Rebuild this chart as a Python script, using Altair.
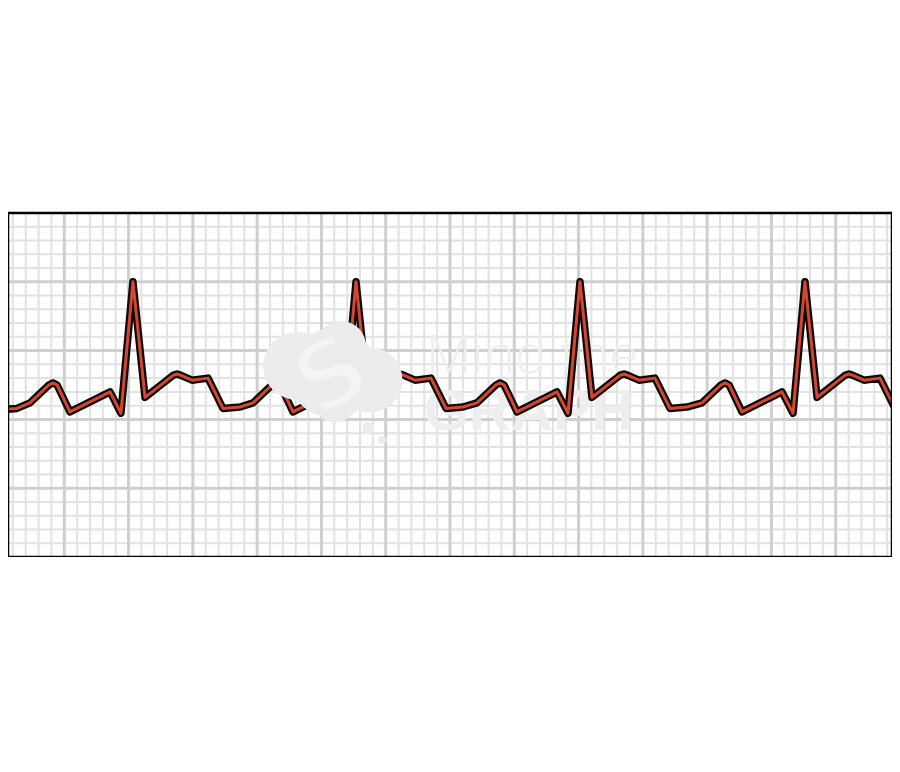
import altair as alt
import pandas as pd

# Grid positions in small-box units (1 small box = 40 ms / 0.1 mV)
x_minor = [i for i in range(1, 70) if i % 5]
x_major = list(range(5, 70, 5))
y_minor = [i for i in range(1, 25) if i % 5]
y_major = [5, 10, 15, 20]

# ECG trace (small-box units)
trace_t = [0.00, 1.32, 2.33, 3.80, 4.12, 4.44, 5.44, 8.56, 9.41, 10.34, 11.28, 13.46, 13.77, 14.08, 14.93, 16.18, 17.34,
           18.67, 19.68, 21.15, 21.47, 21.79, 22.79, 25.90, 26.76, 27.69, 28.62, 30.80, 31.11, 31.42, 32.28, 33.52, 34.69,
           36.01, 37.10, 38.57, 38.89, 39.21, 40.21, 43.32, 44.18, 45.11, 46.04, 48.22, 48.53, 48.84, 49.70, 50.94, 52.11,
           53.43, 54.60, 56.07, 56.39, 56.71, 57.71, 60.82, 61.68, 62.61, 63.55, 65.72, 66.03, 66.34, 67.20, 68.44, 69.61, 70.00]
trace_v = [10.7, 10.8, 11.2, 12.5, 12.65, 12.5, 10.55, 12.0, 10.45, 20.0, 11.6, 13.2, 13.3, 13.2, 12.85, 13.0, 10.8,
           10.9, 11.2, 12.5, 12.65, 12.5, 10.55, 12.0, 10.45, 20.0, 11.6, 13.2, 13.3, 13.2, 12.85, 13.0, 10.8,
           10.9, 11.2, 12.5, 12.65, 12.5, 10.55, 12.0, 10.45, 20.0, 11.6, 13.2, 13.3, 13.2, 12.85, 13.0, 10.8,
           10.9, 11.2, 12.5, 12.65, 12.5, 10.55, 12.0, 10.45, 20.0, 11.6, 13.2, 13.3, 13.2, 12.85, 13.0, 10.8, 10.5]

wm_line1 = ["Mind the"]
wm_line2 = ["GRAPH"]
logo_glyph = ["S"]

# plot area: page x 8..892 shows the strip between these small-box positions
W, H = 884, 344
px_per_box = 900 / 70
xs = alt.Scale(domain=[8 / px_per_box, 892 / px_per_box], nice=False, zero=False)
ys = alt.Scale(domain=[0, 25], nice=False, zero=False)

def vrules(vals, color, width):
    return alt.Chart(pd.DataFrame({"v": vals})).mark_rule(color=color, strokeWidth=width).encode(
        x=alt.X("v:Q", scale=xs, axis=None))

def hrules(vals, color, width):
    return alt.Chart(pd.DataFrame({"v": vals})).mark_rule(color=color, strokeWidth=width).encode(
        y=alt.Y("v:Q", scale=ys, axis=None))

trace = pd.DataFrame({"t": trace_t, "v": trace_v})
base = alt.Chart(trace).encode(
    x=alt.X("t:Q", scale=xs, axis=None),
    y=alt.Y("v:Q", scale=ys, axis=None),
    order=alt.Order("t:Q"),
)
outline = base.mark_line(color="#0a0a0a", strokeWidth=7.5, strokeJoin="round", strokeCap="round", clip=True)
inner = base.mark_line(color="#d4462f", strokeWidth=3, strokeJoin="round", strokeCap="round", clip=True)

# watermark logo (plot coords = page coords minus 8, 213)
blob = pd.DataFrame({
    "px": [325, 289, 362, 333, 327, 360, 374],
    "py": [160, 153, 167, 133, 187, 215, 227],
    "sz": [8100, 4600, 4200, 2500, 2000, 150, 70],
})
logo_blobs = alt.Chart(blob).mark_circle(color="#ececec", opacity=1).encode(
    x=alt.X("px:Q", scale=None, axis=None), y=alt.Y("py:Q", scale=None, axis=None),
    size=alt.Size("sz:Q", scale=None, legend=None))
logo = alt.Chart(pd.DataFrame({"s": logo_glyph})).mark_text(
    font="DejaVu Sans", fontWeight="bold", fontSize=96, align="center", baseline="middle",
    angle=330, fill="#f4f4f4", stroke="#ececec", strokeWidth=6,
).encode(text="s:N", x=alt.value(325), y=alt.value(165))

t1 = alt.Chart(pd.DataFrame({"s": wm_line1})).mark_text(
    font="Open Sans", fontWeight=300, fontSize=53, align="left", baseline="alphabetic",
    color="#eeeeee",
).encode(text="s:N", x=alt.value(418), y=alt.value(160))

t2 = alt.Chart(pd.DataFrame({"s": wm_line2})).mark_text(
    font="Liberation Sans", fontWeight="bold", fontSize=58, align="left", baseline="alphabetic",
    color="#eeeeee",
).encode(text="s:N", x=alt.value(416), y=alt.value(217))

frame = alt.Chart(pd.DataFrame({"f": [0]})).mark_rect(
    fillOpacity=0, stroke="#000000", strokeWidth=2.5
).encode(x=alt.value(0), x2=alt.value(W), y=alt.value(0), y2=alt.value(H))

chart = alt.layer(
    vrules(x_minor, "#e2e2e2", 2),
    hrules(y_minor, "#e2e2e2", 2),
    vrules(x_major, "#cfcfcf", 3),
    hrules(y_major, "#cfcfcf", 3),
    t1, t2,
    outline, inner,
    logo_blobs, logo,
    frame,
).properties(
    width=W, height=H,
    autosize=alt.AutoSizeParams(type="none"),
    padding={"left": 0, "top": 205, "right": 0, "bottom": 0},
    background="white",
).configure_view(strokeWidth=0)

chart.save("out.html", embed_options={"renderer": "svg", "actions": False})
